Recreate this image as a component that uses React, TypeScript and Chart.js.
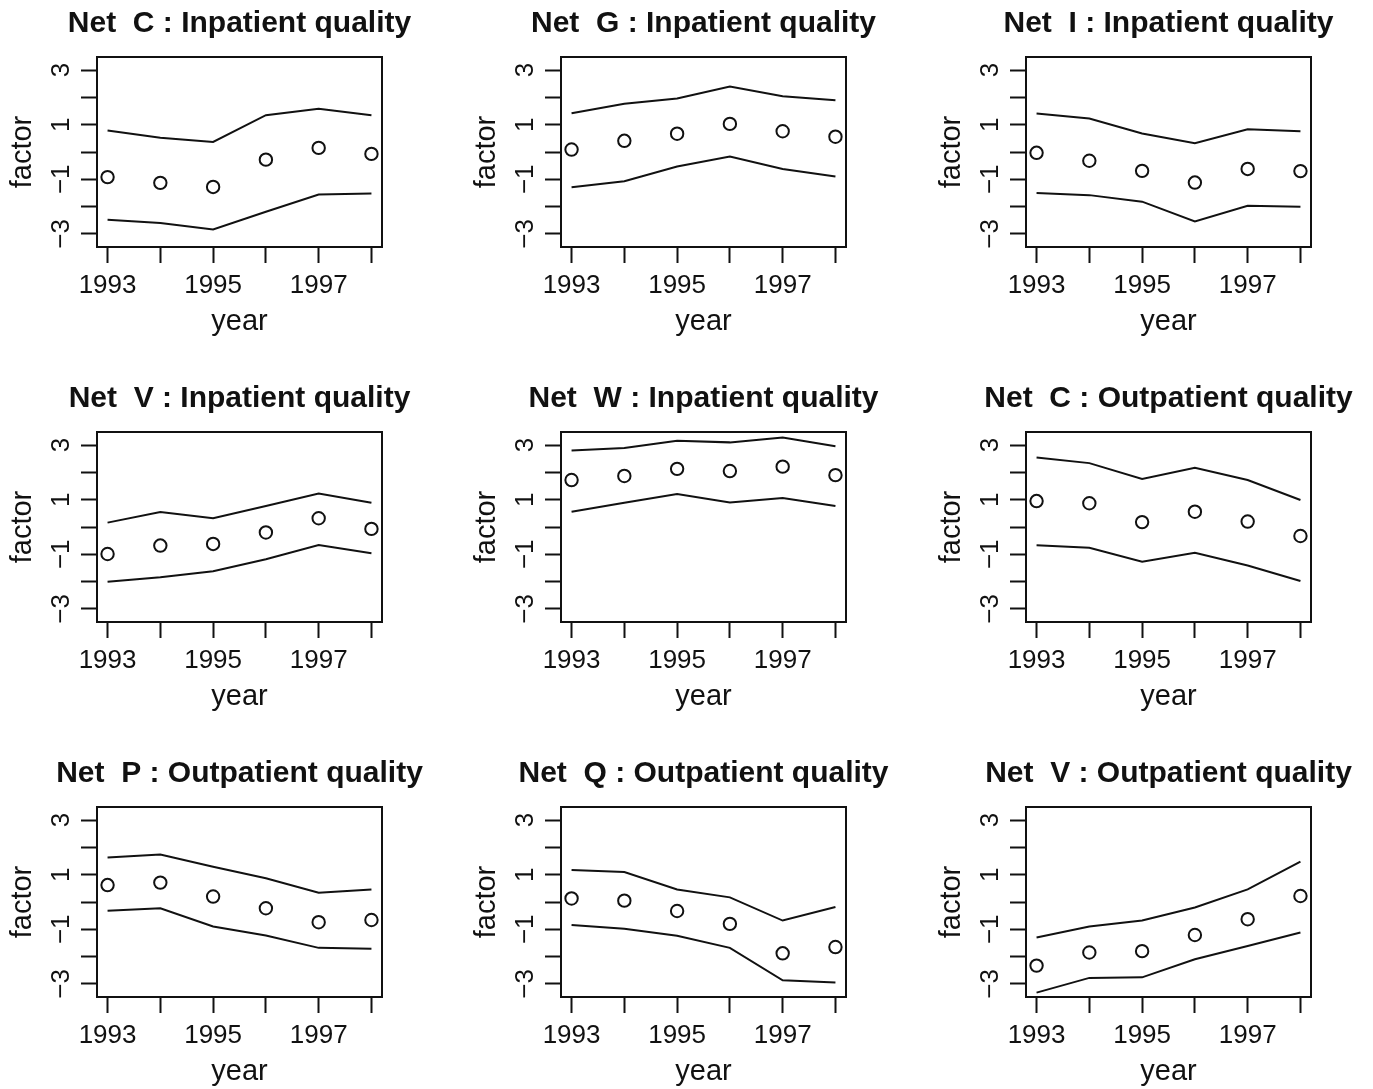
import React, { useEffect, useRef } from "react";
import { Chart, registerables } from "chart.js";

Chart.register(...registerables);

// ---------- data ----------
const years = [1993, 1994, 1995, 1996, 1997, 1998];
const yTickValues = [-3, -2, -1, 0, 1, 2, 3];
const labelledYears = [1993, 1995, 1997];
const labelledFactors = [-3, -1, 1, 3];

const titles = [
  "Net  C : Inpatient quality",
  "Net  G : Inpatient quality",
  "Net  I : Inpatient quality",
  "Net  V : Inpatient quality",
  "Net  W : Inpatient quality",
  "Net  C : Outpatient quality",
  "Net  P : Outpatient quality",
  "Net  Q : Outpatient quality",
  "Net  V : Outpatient quality",
];

const netCInUpper = [0.79, 0.52, 0.37, 1.35, 1.58, 1.35];
const netCInEst = [-0.92, -1.13, -1.28, -0.28, 0.15, -0.07];
const netCInLower = [-2.48, -2.6, -2.84, -2.19, -1.56, -1.52];

const netGInUpper = [1.42, 1.77, 1.96, 2.4, 2.04, 1.9];
const netGInEst = [0.09, 0.41, 0.67, 1.03, 0.76, 0.56];
const netGInLower = [-1.29, -1.07, -0.53, -0.17, -0.62, -0.9];

const netIInUpper = [1.41, 1.23, 0.68, 0.32, 0.83, 0.76];
const netIInEst = [-0.03, -0.32, -0.69, -1.12, -0.62, -0.7];
const netIInLower = [-1.5, -1.58, -1.82, -2.54, -1.97, -2.01];

const netVInUpper = [0.16, 0.55, 0.32, 0.77, 1.23, 0.89];
const netVInEst = [-0.99, -0.68, -0.62, -0.2, 0.32, -0.07];
const netVInLower = [-2.01, -1.84, -1.62, -1.18, -0.66, -0.96];

const netWInUpper = [2.8, 2.89, 3.16, 3.1, 3.28, 2.96];
const netWInEst = [1.72, 1.87, 2.13, 2.05, 2.21, 1.9];
const netWInLower = [0.56, 0.89, 1.21, 0.9, 1.06, 0.77];

const netCOutUpper = [2.55, 2.34, 1.76, 2.17, 1.72, 0.99];
const netCOutEst = [0.95, 0.87, 0.18, 0.56, 0.2, -0.33];
const netCOutLower = [-0.67, -0.76, -1.27, -0.94, -1.41, -1.98];

const netPOutUpper = [1.63, 1.74, 1.29, 0.87, 0.34, 0.46];
const netPOutEst = [0.62, 0.71, 0.2, -0.23, -0.74, -0.66];
const netPOutLower = [-0.32, -0.23, -0.9, -1.23, -1.68, -1.71];

const netQOutUpper = [1.17, 1.1, 0.46, 0.17, -0.68, -0.18];
const netQOutEst = [0.13, 0.05, -0.33, -0.8, -1.88, -1.65];
const netQOutLower = [-0.84, -0.98, -1.24, -1.68, -2.87, -2.95];

const netVOutUpper = [-1.3, -0.9, -0.68, -0.2, 0.46, 1.48];
const netVOutEst = [-2.33, -1.85, -1.8, -1.21, -0.63, 0.22];
const netVOutLower = [-3.32, -2.78, -2.76, -2.1, -1.61, -1.12];

const upperSeries = [netCInUpper, netGInUpper, netIInUpper, netVInUpper, netWInUpper, netCOutUpper, netPOutUpper, netQOutUpper, netVOutUpper];
const estimateSeries = [netCInEst, netGInEst, netIInEst, netVInEst, netWInEst, netCOutEst, netPOutEst, netQOutEst, netVOutEst];
const lowerSeries = [netCInLower, netGInLower, netIInLower, netVInLower, netWInLower, netCOutLower, netPOutLower, netQOutLower, netVOutLower];

// ---------- layout ----------
const CANVAS_W = 479;
const CANVAS_H = 370;
const colLefts = [0, 464, 929];
const rowTops = [0, 375, 750];
const INK = "#111";
const SANS = "'Liberation Sans', Arial, Helvetica, sans-serif";

function toPoints(vals: number[]) {
  return years.map((yr, i) => ({ x: yr, y: vals[i] }));
}

function buildConfig(i: number): any {
  const axisStyle = {
    grid: {
      display: true,
      drawOnChartArea: false,
      drawTicks: true,
      tickLength: 16,
      tickWidth: 2,
      tickColor: INK,
      color: INK,
    },
    border: { display: true, color: INK, width: 2 },
  };
  const frameAxis = {
    display: true,
    grid: { display: false },
    ticks: { display: false },
    border: { display: true, color: INK, width: 2 },
  };
  return {
    type: "line",
    data: {
      datasets: [
        {
          data: toPoints(upperSeries[i]),
          borderColor: INK,
          borderWidth: 2,
          pointRadius: 0,
          tension: 0,
          fill: false,
        },
        {
          data: toPoints(lowerSeries[i]),
          borderColor: INK,
          borderWidth: 2,
          pointRadius: 0,
          tension: 0,
          fill: false,
        },
        {
          data: toPoints(estimateSeries[i]),
          showLine: false,
          borderColor: INK,
          backgroundColor: "rgba(0,0,0,0)",
          pointRadius: 6.2,
          pointBorderWidth: 2,
          pointBorderColor: INK,
          pointBackgroundColor: "rgba(0,0,0,0)",
          pointStyle: "circle",
        },
      ],
    },
    options: {
      responsive: false,
      animation: false,
      devicePixelRatio: 1,
      events: [],
      layout: { padding: 0 },
      plugins: {
        legend: { display: false },
        tooltip: { enabled: false },
        title: {
          display: true,
          text: titles[i],
          color: INK,
          font: { family: SANS, weight: "bold", size: 30, lineHeight: 1.2 },
          padding: { top: 5.5, bottom: 15.5 },
        },
      },
      scales: {
        x: {
          type: "linear",
          position: "bottom",
          min: 1992.8,
          max: 1998.2,
          afterBuildTicks: (s: any) => {
            s.ticks = years.map((v) => ({ value: v }));
          },
          afterFit: (s: any) => {
            s.height = 123;
          },
          ...axisStyle,
          ticks: {
            autoSkip: false,
            minRotation: 0,
            maxRotation: 0,
            padding: 7,
            color: INK,
            font: { family: SANS, size: 26, lineHeight: 1.2 },
            callback: (v: any) => (labelledYears.includes(Number(v)) ? String(v) : ""),
          },
          title: {
            display: true,
            text: "year",
            color: INK,
            font: { family: SANS, size: 29, lineHeight: 1.2 },
            padding: { top: 0, bottom: 30.5 },
          },
        },
        y: {
          type: "linear",
          position: "left",
          min: -3.48,
          max: 3.48,
          afterBuildTicks: (s: any) => {
            s.ticks = yTickValues.map((v) => ({ value: v }));
          },
          afterFit: (s: any) => {
            s.width = 97;
          },
          ...axisStyle,
          ticks: {
            autoSkip: false,
            minRotation: 90,
            maxRotation: 90,
            crossAlign: "center",
            padding: 4,
            color: INK,
            font: { family: SANS, size: 26, lineHeight: 1.2 },
            callback: (v: any) => {
              const n = Number(v);
              if (!labelledFactors.includes(n)) return "";
              return n < 0 ? "\u2212" + Math.abs(n) : String(n);
            },
          },
          title: {
            display: true,
            text: "factor",
            color: INK,
            font: { family: SANS, size: 29, lineHeight: 1.2 },
            padding: { top: 5.9, bottom: 0 },
          },
        },
        frameTop: {
          type: "linear",
          position: "top",
          ...frameAxis,
          afterFit: (s: any) => {
            s.height = 0;
          },
        },
        frameRight: {
          type: "linear",
          position: "right",
          ...frameAxis,
          afterFit: (s: any) => {
            s.width = 97;
          },
        },
      },
    },
  };
}

function Panel({ index }: { index: number }) {
  const ref = useRef<HTMLCanvasElement | null>(null);
  useEffect(() => {
    if (!ref.current) return;
    const chart = new Chart(ref.current, buildConfig(index));
    return () => chart.destroy();
  }, [index]);
  const col = index % 3;
  const row = Math.floor(index / 3);
  return (
    <canvas
      ref={ref}
      width={CANVAS_W}
      height={CANVAS_H}
      style={{
        position: "absolute",
        left: colLefts[col],
        top: rowTops[row],
        width: CANVAS_W,
        height: CANVAS_H,
      }}
    />
  );
}

export default function App() {
  return (
    <div
      style={{
        position: "absolute",
        left: 0,
        top: 0,
        width: 1373,
        height: 1089,
        overflow: "hidden",
        background: "#fff",
      }}
    >
      {titles.map((_, i) => (
        <Panel key={i} index={i} />
      ))}
    </div>
  );
}
